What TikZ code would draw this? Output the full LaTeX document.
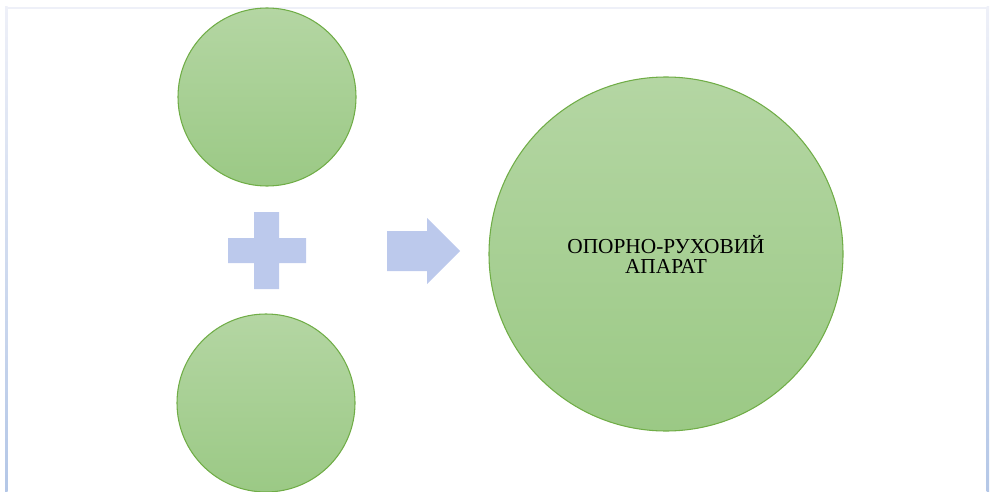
\documentclass[tikz,border=0pt]{standalone}
\usepackage{fontspec}
\setmainfont{Liberation Serif}
\definecolor{gtop}{HTML}{B4D6A3}
\definecolor{gbot}{HTML}{9BC985}
\definecolor{gline}{HTML}{70AD47}
\definecolor{shapeblue}{HTML}{BCC9EC}
\definecolor{framelight}{HTML}{EEF0F8}
\definecolor{frameblue}{HTML}{B4C7E7}
\tikzset{
  greenball/.style={circle, draw=gline, line width=0.8pt, top color=gtop, bottom color=gbot, inner sep=0pt, align=center},
  bluemark/.style={fill=shapeblue, draw=none},
}
\begin{document}
\begin{tikzpicture}[x=0.75pt, y=-0.75pt]
\useasboundingbox (0,0) rectangle (992,492);
% frame
\fill[framelight] (5,7) rectangle (989,9);
\shade[top color=framelight, bottom color=frameblue] (5,7) rectangle (7.5,492);
\shade[top color=framelight, bottom color=frameblue] (986.5,7) rectangle (989,492);
% circles
\node[greenball, minimum size=133.5pt] (top) at (267,97) {};
\node[greenball, minimum size=133.5pt] (bottom) at (266,403) {};
\node[greenball, minimum size=265.5pt, font=\fontsize{16}{15}\selectfont] (result) at (666,254) {ОПОРНО-РУХОВИЙ\\АПАРАТ};
% plus
\fill[bluemark] (254,212) -- (279,212) -- (279,238) -- (306,238) -- (306,263) -- (279,263) -- (279,289) -- (254,289) -- (254,263) -- (228,263) -- (228,238) -- (254,238) -- cycle;
% arrow
\fill[bluemark] (387,231) -- (427,231) -- (427,218) -- (460,251) -- (427,284) -- (427,271) -- (387,271) -- cycle;
\end{tikzpicture}
\end{document}
